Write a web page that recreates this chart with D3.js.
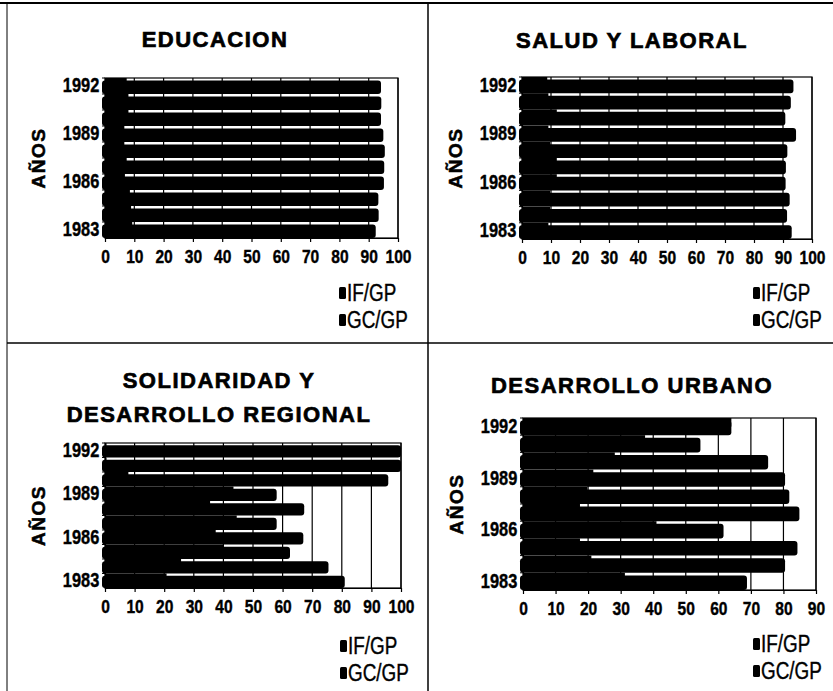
<!DOCTYPE html>
<html>
<head>
<meta charset="utf-8">
<script src="https://cdn.jsdelivr.net/npm/d3@7"></script>
<style>
  body { margin: 0; background: #fff; }
  svg { display: block; }
  svg text { font-family: "Liberation Sans", Arial, sans-serif; }
</style>
</head>
<body>
<div id="chart"></div>
<script>
// Years and tick labels
const years = [1983, 1984, 1985, 1986, 1987, 1988, 1989, 1990, 1991, 1992];
const yearTicks = [1983, 1986, 1989, 1992];
const seriesNames = ['IF/GP', 'GC/GP'];

// Values per panel, 1983 -> 1992
const educacionIF = [9.3, 8.9, 8.5, 6.8, 7.4, 6.6, 6.6, 8.0, 8.0, 7.4];
const educacionGC = [92.4, 93.4, 93.3, 95.2, 95.3, 95.5, 95.0, 94.2, 94.3, 94.2];

const saludIF = [9.1, 9.7, 9.7, 12.0, 12.0, 9.7, 9.1, 12.0, 9.1, 8.7];
const saludGC = [93.0, 91.4, 92.3, 90.9, 91.0, 91.5, 94.5, 90.8, 92.7, 93.6];

const solidaridadIF = [20.8, 25.7, 40.0, 37.4, 44.5, 35.5, 43.4, 7.9, 0.5, 0.5];
const solidaridadGC = [81.0, 75.5, 62.5, 67.0, 58.0, 67.3, 58.0, 95.7, 100, 100];

const urbanoIF = [31.3, 21.0, 17.5, 41.0, 17.5, 19.8, 21.6, 28.2, 37.5, 64.0];
const urbanoGC = [68.8, 80.5, 84.3, 61.6, 84.9, 81.8, 80.5, 75.3, 54.5, 64.0];

const titles = [
    ['EDUCACION'],
    ['SALUD Y LABORAL'],
    ['SOLIDARIDAD Y', 'DESARROLLO REGIONAL'],
    ['DESARROLLO URBANO']
];
const axisMax = [100, 100, 100, 90];
const ifSeries = [educacionIF, saludIF, solidaridadIF, urbanoIF];
const gcSeries = [educacionGC, saludGC, solidaridadGC, urbanoGC];

// Layout of each panel (plot box, title baseline, legend)
const layout = [
    { x0: 105, x1: 398, y0: 78, y1: 238, cx: 215, ty: 47, legX: 339, legY: 293 },
    { x0: 522, x1: 812, y0: 77, y1: 239, cx: 632, ty: 48, legX: 753, legY: 293 },
    { x0: 105, x1: 401, y0: 443, y1: 588, cx: 219, ty: 388, legX: 340, legY: 646 },
    { x0: 523, x1: 816, y0: 418, y1: 590, cx: 632, ty: 393, legX: 753, legY: 644 }
];

const width = 833, height = 691;
const squeeze = 'scale(0.82,1)'; // narrow look of the original print

const svg = d3.select('#chart')
    .append('svg')
    .attr('width', width)
    .attr('height', height);

svg.append('rect').attr('width', width).attr('height', height).attr('fill', '#fff');

// Page frame lines
const frame = svg.append('g').attr('stroke', '#000').attr('fill', 'none');
frame.append('line').attr('x1', 0).attr('x2', width).attr('y1', 3).attr('y2', 3).attr('stroke-width', 2);
frame.append('line').attr('x1', 7).attr('x2', 7).attr('y1', 3).attr('y2', height).attr('stroke-width', 1);
frame.append('line').attr('x1', 428).attr('x2', 428).attr('y1', 3).attr('y2', height).attr('stroke-width', 1.5);
frame.append('line').attr('x1', 7).attr('x2', width).attr('y1', 343).attr('y2', 343).attr('stroke-width', 1.5);

layout.forEach((L, p) => {
    const g = svg.append('g');
    const data = years.map((yr, i) => ({ year: yr, ifv: ifSeries[p][i], gcv: gcSeries[p][i] }));

    const x = d3.scaleLinear().domain([0, axisMax[p]]).range([L.x0, L.x1]);
    const y = d3.scaleBand()
        .domain(years.slice().reverse())
        .range([L.y0, L.y1])
        .padding(0);
    const bw = y.bandwidth();

    // Title
    const t = g.append('text')
        .attr('x', L.cx)
        .attr('y', L.ty)
        .attr('text-anchor', 'middle')
        .attr('font-size', '22px')
        .attr('font-weight', 'bold')
        .attr('letter-spacing', '1.5px')
        .attr('stroke', '#000')
        .attr('stroke-width', 0.7);
    titles[p].forEach((line, k) => {
        t.append('tspan').attr('x', L.cx).attr('dy', k === 0 ? 0 : 34).text(line);
    });

    // Vertical grid lines
    g.append('g')
        .selectAll('line')
        .data(x.ticks(axisMax[p] / 10).slice(1))
        .join('line')
        .attr('x1', d => x(d)).attr('x2', d => x(d))
        .attr('y1', L.y0).attr('y2', L.y1)
        .attr('stroke', '#000')
        .attr('stroke-width', 1.2);

    // GC/GP bars
    g.append('g')
        .selectAll('rect')
        .data(data)
        .join('rect')
        .attr('x', x(0) - 3)
        .attr('y', d => y(d.year) + bw * 0.15)
        .attr('width', d => x(d.gcv) - x(0) + 3)
        .attr('height', bw * 0.85)
        .attr('rx', 3)
        .attr('fill', '#000');

    // IF/GP bars
    g.append('g')
        .selectAll('rect')
        .data(data)
        .join('rect')
        .attr('x', x(0))
        .attr('y', d => y(d.year))
        .attr('width', d => x(d.ifv) - x(0))
        .attr('height', bw * 0.5)
        .attr('fill', '#000');

    // Plot border
    g.append('rect')
        .attr('x', L.x0).attr('y', L.y0)
        .attr('width', L.x1 - L.x0).attr('height', L.y1 - L.y0)
        .attr('fill', 'none')
        .attr('stroke', '#000')
        .attr('stroke-width', 1.2);

    // X axis
    const xAxis = g.append('g')
        .attr('transform', `translate(0,${L.y1})`)
        .call(d3.axisBottom(x).ticks(axisMax[p] / 10).tickSize(4).tickPadding(8).tickSizeOuter(0));
    xAxis.attr('font-family', null);
    xAxis.selectAll('text')
        .attr('font-size', '19px')
        .attr('font-weight', 'bold')
        .attr('fill', '#000')
        .attr('stroke', '#000')
        .attr('stroke-width', 0.4)
        .attr('transform', squeeze);
    xAxis.selectAll('line, path').attr('stroke', '#000').attr('stroke-width', 1.2);

    // Y axis labels
    const yAxis = g.append('g')
        .attr('transform', `translate(${L.x0},0)`)
        .call(d3.axisLeft(y).tickValues(yearTicks).tickSize(0).tickPadding(7));
    yAxis.attr('font-family', null);
    yAxis.select('.domain').attr('stroke', '#000').attr('stroke-width', 1.2);
    yAxis.selectAll('text')
        .attr('font-size', '20px')
        .attr('font-weight', 'bold')
        .attr('fill', '#000')
        .attr('stroke', '#000')
        .attr('stroke-width', 0.4)
        .attr('transform', squeeze);

    // small ticks at band edges
    g.append('g')
        .selectAll('line')
        .data(years)
        .join('line')
        .attr('x1', L.x0 - 3).attr('x2', L.x0)
        .attr('y1', d => y(d)).attr('y2', d => y(d))
        .attr('stroke', '#000');

    // AÑOS
    g.append('text')
        .attr('transform', `translate(${L.x0 - 60},${(L.y0 + L.y1) / 2}) rotate(-90)`)
        .attr('text-anchor', 'middle')
        .attr('font-size', '19px')
        .attr('font-weight', 'bold')
        .attr('letter-spacing', '1.5px')
        .attr('stroke', '#000')
        .attr('stroke-width', 0.5)
        .text('AÑOS');

    // Legend
    const leg = g.append('g');
    seriesNames.forEach((name, k) => {
        const row = leg.append('g').attr('transform', `translate(${L.legX},${L.legY + k * 27})`);
        row.append('rect')
            .attr('x', 0).attr('y', -6)
            .attr('width', 7).attr('height', 12)
            .attr('rx', 1.5)
            .attr('fill', '#000');
        row.append('text')
            .attr('transform', `translate(8,8) ${squeeze}`)
            .attr('font-size', '23px')
            .attr('fill', '#000')
            .attr('stroke', '#000')
            .attr('stroke-width', 0.4)
            .text(name);
    });
});
</script>
</body>
</html>
